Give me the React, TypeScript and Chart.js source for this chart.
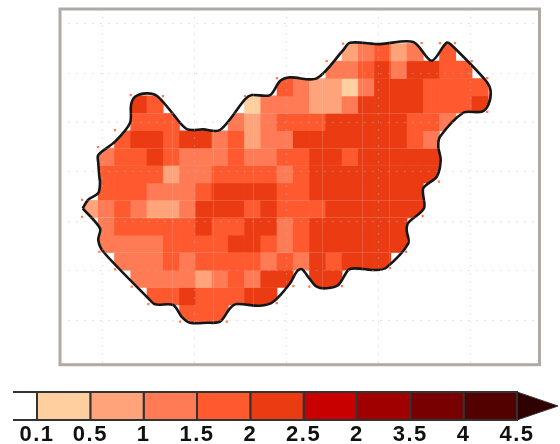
import React, { useEffect, useRef } from "react";
import { Chart, registerables } from "chart.js";

Chart.register(...registerables);

const _ = null;

// Cell centres (degrees east) and cell edges (degrees north)
const lonCenters = [16.29, 16.555, 16.82, 17.085, 17.35, 17.615, 17.88, 18.145, 18.41, 18.675, 18.94, 19.205, 19.47, 19.735, 20.0, 20.265, 20.53, 20.795, 21.06, 21.325, 21.59, 21.855, 22.12, 22.385, 22.65];
const latEdges = [48.548, 48.372, 48.195, 48.019, 47.843, 47.666, 47.49, 47.314, 47.137, 46.961, 46.784, 46.608, 46.432, 46.255, 46.079, 45.902, 45.726];

const row00 = [_, _, _, _, _, _, _, _, _, _, _, _, _, _, _, _, 0.8, 1.3, 1.8, 0.8, 1.3, _, 1.8, _, _];
const row01 = [_, _, _, _, _, _, _, _, _, _, _, _, _, _, _, 1.3, 1.3, 1.8, 2.3, 1.3, 2.3, 2.3, 1.8, 1.8, _];
const row02 = [_, _, _, _, _, _, _, _, _, _, _, _, 1.8, 1.3, 0.8, 0.8, 0.3, 1.3, 2.3, 2.3, 2.3, 1.8, 1.8, 1.8, 1.8];
const row03 = [_, _, _, 2.3, 1.8, _, _, _, _, _, 0.3, 1.3, 1.3, 1.3, 0.8, 0.8, 1.3, 2.3, 2.3, 2.3, 2.3, 1.8, 1.8, 1.8, 2.3];
const row04 = [_, _, _, 1.8, 1.8, 1.8, _, _, _, 1.3, 0.8, 1.3, 1.8, 1.8, 1.8, 2.3, 2.3, 2.3, 2.3, 2.3, 1.8, 1.8, 1.3, _, _];
const row05 = [_, _, 1.8, 2.3, 2.3, 1.8, 2.3, 2.3, 1.3, 1.8, 0.8, 1.3, 1.3, 2.3, 2.3, 2.3, 2.3, 2.3, 2.3, 2.3, 1.8, 1.3, _, _, _];
const row06 = [_, 1.3, 1.8, 1.8, 2.3, 1.8, 1.3, 1.3, 1.3, 1.8, 1.3, 1.3, 1.8, 1.8, 2.3, 2.3, 1.8, 2.3, 2.3, 2.3, 2.3, 2.3, _, _, _];
const row07 = [_, 1.8, 1.8, 1.8, 1.8, 0.8, 1.3, 1.3, 1.8, 1.8, 1.8, 1.8, 1.3, 1.8, 2.3, 2.3, 2.3, 2.3, 2.3, 2.3, 2.3, 2.3, _, _, _];
const row08 = [_, 1.8, 1.8, 1.8, 1.3, 1.3, 1.3, 1.8, 2.3, 2.3, 2.3, 2.3, 1.8, 1.8, 2.3, 2.3, 2.3, 2.3, 2.3, 2.3, 2.3, _, _, _, _];
const row09 = [0.8, 1.3, 1.8, 1.3, 0.8, 0.8, 1.3, 2.3, 2.3, 2.3, 1.8, 2.3, 1.8, 1.8, 1.8, 2.3, 2.3, 2.3, 2.3, 2.3, 2.3, _, _, _, _];
const row10 = [_, 1.3, 1.8, 1.8, 1.8, 1.8, 1.8, 2.3, 1.8, 1.8, 2.3, 2.3, 1.3, 1.8, 2.3, 2.3, 2.3, 2.3, 2.3, 2.3, _, _, _, _, _];
const row11 = [_, 1.3, 1.3, 1.3, 1.3, 1.8, 1.8, 1.8, 1.8, 2.3, 2.3, 1.8, 1.3, 1.8, 2.3, 2.3, 2.3, 2.3, 2.3, 2.3, _, _, _, _, _];
const row12 = [_, _, 1.3, 1.3, 1.3, 1.8, 1.3, 1.8, 1.8, 1.8, 1.8, 1.3, 1.8, 1.3, 2.3, 1.8, 2.3, 2.3, 2.3, _, _, _, _, _, _];
const row13 = [_, _, _, 1.3, 1.3, 1.3, 1.3, 0.8, 1.3, 1.8, 1.3, 2.3, 2.3, _, 2.3, 2.3, _, _, _, _, _, _, _, _, _];
const row14 = [_, _, _, _, 1.8, 1.8, 2.3, 1.8, 1.8, 1.8, 2.3, 2.3, _, _, _, _, _, _, _, _, _, _, _, _, _];
const row15 = [_, _, _, _, _, _, 1.8, 1.8, 1.8, _, _, _, _, _, _, _, _, _, _, _, _, _, _, _, _];
const rows = [row00, row01, row02, row03, row04, row05, row06, row07, row08, row09, row10, row11, row12, row13, row14, row15];

// Border, clockwise from the western tip
const borderLon = [16.169, 16.255, 16.423, 16.451, 16.44, 16.423, 16.423, 16.696, 16.94, 16.957, 17.022, 17.212, 17.376, 17.592, 17.865, 18.135, 18.408, 18.815, 18.924, 19.223, 19.386, 19.549, 19.984, 20.418, 20.527, 21.016, 21.559, 21.859, 22.104, 22.211, 22.756, 22.821, 22.782, 22.674, 22.374, 21.994, 21.967, 22.006, 21.941, 21.722, 21.734, 21.478, 21.451, 21.478, 21.125, 20.962, 20.609, 20.499, 20.336, 20.147, 19.984, 19.864, 19.74, 19.658, 19.549, 19.277, 19.06, 18.68, 18.571, 18.408, 18.191, 17.918, 17.783, 17.646, 17.348, 17.239, 16.505, 16.423, 16.451];
const borderLat = [46.881, 46.965, 47.035, 47.137, 47.2, 47.339, 47.42, 47.555, 47.744, 47.926, 48.01, 48.044, 48.02, 47.875, 47.683, 47.68, 47.673, 47.984, 48.027, 48.027, 48.169, 48.206, 48.196, 48.483, 48.557, 48.543, 48.564, 48.374, 48.557, 48.516, 48.162, 48.061, 47.926, 47.858, 47.848, 47.605, 47.504, 47.369, 47.2, 47.083, 46.881, 46.735, 46.661, 46.526, 46.283, 46.256, 46.273, 46.256, 46.104, 46.071, 46.087, 46.172, 46.266, 46.239, 46.121, 45.935, 45.895, 45.912, 45.868, 45.733, 45.723, 45.723, 45.783, 45.902, 45.909, 45.97, 46.441, 46.56, 46.678];

// Cell corners that stick out past the border mask
const cornerLon = [16.418, 16.696, 16.952, 17.478, 18.815, 19.337, 20.147, 20.413, 21.696, 21.994, 22.239, 22.511, 22.765, 22.765, 21.978, 21.712, 21.44, 21.179, 20.397, 19.864, 19.603, 19.332, 18.517, 17.755, 17.239, 16.968, 16.696, 16.44, 16.158, 16.158];
const cornerLat = [47.501, 47.673, 48.027, 48.017, 48.017, 48.199, 48.371, 48.548, 48.553, 48.553, 48.553, 48.371, 48.199, 47.858, 47.15, 46.803, 46.441, 46.276, 46.094, 46.087, 46.094, 45.922, 45.733, 45.733, 45.912, 46.087, 46.263, 46.441, 46.965, 46.795];

const lonRange = [15.799, 23.617];
const latRange = [45.298, 48.898];
const lonGrid = [16.5, 18, 19.5, 21, 22.5];
const latGrid = [45.75, 46.25, 46.75, 47.25, 47.75, 48.25, 48.75];
const seamLon = [17.222, 18.016, 18.804, 20.147, 20.935, 21.456];
const seamLat = [47.843, 47.49, 46.961, 46.784, 46.432];

// Colour key
const keyLabels = ["0.1", "0.5", "1", "1.5", "2", "2.5", "2", "3.5", "4", "4.5"];
const keyColors = ["#ffcf9f", "#ffa47a", "#ff7b55", "#ff5a2f", "#ea3b13", "#c80000", "#a00000", "#780000", "#520000"];
const keyOverColor = "#300000";
const keyEdges = [0.1, 0.5, 1, 1.5, 2, 2.5];

function colorOf(v: number) {
  for (let i = 1; i < keyEdges.length; i++) if (v < keyEdges[i]) return keyColors[i - 1];
  return keyColors[4];
}

const frame = {
  id: "frame",
  afterDraw(chart: any) {
    const { ctx, chartArea: a } = chart;
    ctx.save();
    ctx.strokeStyle = "#b0aaa5";
    ctx.lineWidth = 3;
    ctx.strokeRect(a.left, a.top, a.right - a.left, a.bottom - a.top);
    ctx.restore();
  },
};

const spacing = {
  id: "spacing",
  beforeDraw(chart: any) {
    chart.ctx.letterSpacing = "1.5px";
  },
};

export default function App() {
  const mapRef = useRef<HTMLCanvasElement>(null);
  const keyRef = useRef<HTMLCanvasElement>(null);

  useEffect(() => {
    const cellSets = rows.map((r, k) => {
      const cols = lonCenters.map((_l, i) => i).filter((i) => r[i] !== null);
      return {
        type: "bar",
        order: 4,
        grouped: false,
        barPercentage: 1,
        categoryPercentage: 1,
        borderWidth: 0,
        data: cols.map((i) => ({ x: lonCenters[i], y: [latEdges[k + 1], latEdges[k]] })),
        backgroundColor: cols.map((i) => colorOf(r[i] as number)),
      };
    });
    const border = borderLon.map((x, i) => ({ x, y: borderLat[i] }));
    const mask = [
      ...border,
      border[0],
      { x: lonRange[0] - 0.1, y: border[0].y },
      { x: lonRange[0] - 0.1, y: latRange[0] - 0.1 },
      { x: lonRange[1] + 0.1, y: latRange[0] - 0.1 },
      { x: lonRange[1] + 0.1, y: latRange[1] + 0.1 },
      { x: lonRange[0] - 0.1, y: latRange[1] + 0.1 },
      { x: lonRange[0] - 0.1, y: border[0].y },
    ];
    const grid = {
      color: "rgba(185,185,185,0.5)",
      lineWidth: 1,
      drawTicks: false,
      z: 1,
      offset: false,
    };
    const seamGrid = {
      color: "rgba(255,255,255,0.15)",
      lineWidth: 1,
      drawTicks: false,
      z: 1,
      offset: false,
    };
    const map = new Chart(mapRef.current!, {
      type: "bar",
      data: {
        datasets: [
          ...cellSets,
          {
            type: "line",
            order: 3,
            data: mask,
            borderWidth: 0,
            pointRadius: 0,
            fill: "shape",
            backgroundColor: "#ffffff",
            tension: 0,
          },
          {
            type: "line",
            order: 2,
            data: cornerLon.map((x, i) => ({ x, y: cornerLat[i] })),
            showLine: false,
            pointStyle: "rect",
            pointRadius: 1.6,
            pointBorderWidth: 0,
            pointBackgroundColor: "#ff7a50",
          },
          {
            type: "line",
            order: 1,
            data: [...border, border[0]],
            borderColor: "#161616",
            borderWidth: 2.6,
            pointRadius: 0,
            fill: false,
            tension: 0.3,
          },
        ] as any,
      },
      options: {
        animation: false,
        responsive: false,
        layout: { padding: { left: 60, top: 9, right: 20.5, bottom: 10.3 } },
        plugins: { legend: { display: false }, tooltip: { enabled: false } },
        scales: {
          x: {
            type: "linear",
            min: lonRange[0],
            max: lonRange[1],
            offset: false,
            ticks: { display: false },
            border: { display: false, dash: [1.5, 6.5] },
            grid,
            afterBuildTicks: (s: any) => {
              s.ticks = lonGrid.map((value) => ({ value }));
            },
          },
          y: {
            type: "linear",
            min: latRange[0],
            max: latRange[1],
            ticks: { display: false },
            border: { display: false, dash: [1.5, 6.5] },
            grid,
            afterBuildTicks: (s: any) => {
              s.ticks = latGrid.map((value) => ({ value }));
            },
          },
          seamX: {
            type: "linear",
            axis: "x",
            position: "bottom",
            min: lonRange[0],
            max: lonRange[1],
            ticks: { display: false },
            border: { display: false },
            grid: seamGrid,
            afterBuildTicks: (s: any) => {
              s.ticks = seamLon.map((value) => ({ value }));
            },
          },
          seamY: {
            type: "linear",
            axis: "y",
            position: "left",
            min: latRange[0],
            max: latRange[1],
            ticks: { display: false },
            border: { display: false },
            grid: seamGrid,
            afterBuildTicks: (s: any) => {
              s.ticks = seamLat.map((value) => ({ value }));
            },
          },
        },
      } as any,
      plugins: [frame],
    });

    const cellSet = (i: number) => ({
      data: [
        { x: i, y: 0 },
        { x: i, y: 1 },
        { x: i + 1, y: 1 },
        { x: i + 1, y: 0 },
        { x: i, y: 0 },
      ],
      backgroundColor: keyColors[i],
      borderColor: "#333333",
      borderWidth: 2,
      fill: "shape",
      pointRadius: 0,
      clip: false,
    });
    const key = new Chart(keyRef.current!, {
      type: "line",
      data: {
        datasets: [
          ...keyColors.map((_c, i) => cellSet(i)),
          {
            data: [{ x: 9, y: 1 }, { x: 9.77, y: 0.5 }, { x: 9, y: 0 }, { x: 9, y: 1 }],
            backgroundColor: keyOverColor,
            borderColor: "#333333",
            borderWidth: 1,
            fill: "shape",
            pointRadius: 0,
            clip: false,
          },
          {
            data: [{ x: -0.45, y: 1 }, { x: 0, y: 1 }],
            borderColor: "#333333",
            borderWidth: 2,
            pointRadius: 0,
            fill: false,
            clip: false,
          },
          {
            data: [{ x: -0.45, y: 0 }, { x: 0, y: 0 }],
            borderColor: "#333333",
            borderWidth: 2,
            pointRadius: 0,
            fill: false,
            clip: false,
          },
        ] as any,
      },
      options: {
        animation: false,
        responsive: false,
        layout: { padding: { top: 17 } },
        plugins: { legend: { display: false }, tooltip: { enabled: false } },
        scales: {
          x: {
            type: "linear",
            min: -37 / 53.33,
            max: (560 - 37) / 53.33,
            grid: { display: false },
            border: { display: false },
            afterFit: (s: any) => {
              s.height = 24;
            },
            afterBuildTicks: (s: any) => {
              s.ticks = keyLabels.map((_l, value) => ({ value }));
            },
            ticks: {
              autoSkip: false,
              maxRotation: 0,
              padding: -6,
              color: "#111111",
              font: { family: "'Liberation Sans'", size: 22, weight: "bold" },
              callback: (v: any) => keyLabels[v],
            },
          },
          y: { type: "linear", min: 0, max: 1, display: false },
        },
      } as any,
      plugins: [spacing],
    });
    return () => {
      map.destroy();
      key.destroy();
    };
  }, []);

  const base: React.CSSProperties = { position: "absolute", left: 0, filter: "blur(0.6px)", display: "block" };
  return (
    <div>
      <canvas ref={mapRef} width={560} height={375} style={{ ...base, top: 0, width: 560, height: 375 }} />
      <canvas ref={keyRef} width={560} height={69} style={{ ...base, top: 375, width: 560, height: 69 }} />
    </div>
  );
}
